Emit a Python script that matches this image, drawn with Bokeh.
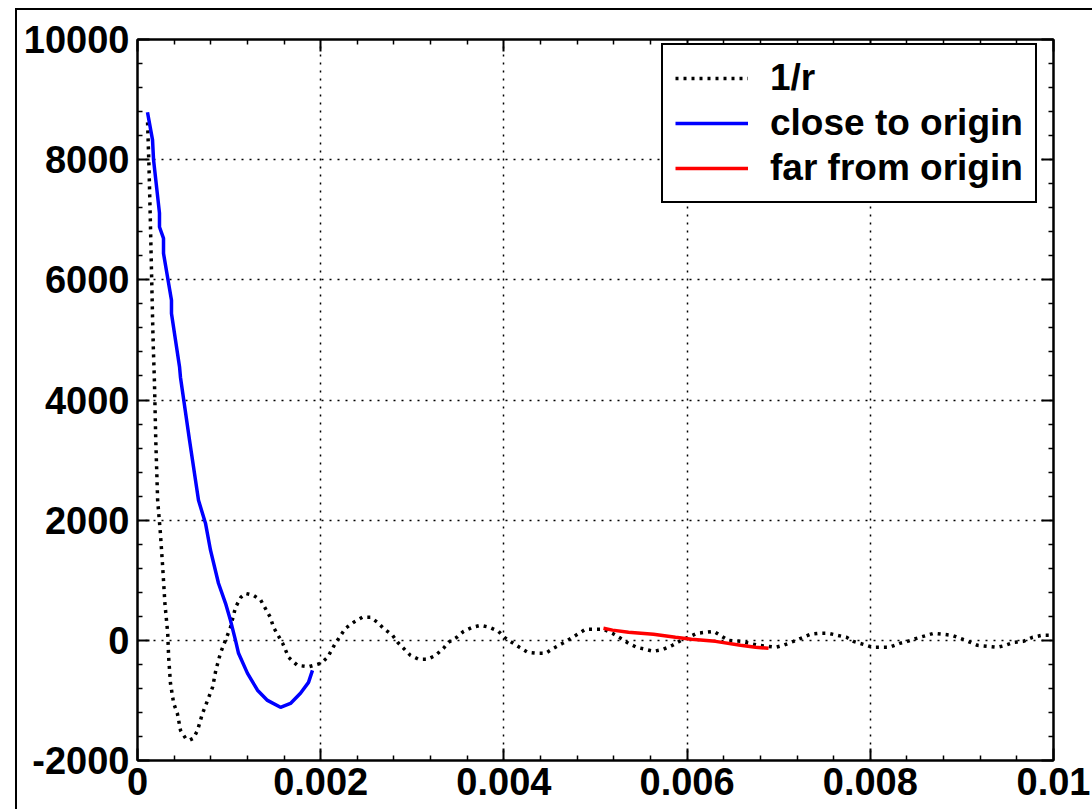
from bokeh.plotting import figure
from bokeh.models import (LinearAxis, FixedTicker, Legend, LegendItem,
                          Range1d, CustomJSTickFormatter, Grid, CustomLabelingPolicy)
from bokeh.embed import file_html
from bokeh.resources import INLINE

# ---- data -------------------------------------------------------------
inv_r_x = [0.000110, 0.000125, 0.000140, 0.000155, 0.000170, 0.000185, 0.000200, 0.000220, 0.000250, 0.000275,
           0.000300, 0.000330, 0.000340, 0.000360, 0.000395, 0.000435, 0.000470, 0.000525, 0.000570, 0.000610,
           0.000655, 0.000710, 0.000765, 0.000820, 0.000855, 0.000905, 0.000960, 0.001015, 0.001070, 0.001130,
           0.001180, 0.001265, 0.001345, 0.001450, 0.001485, 0.001585, 0.001650, 0.001745, 0.001870, 0.002000,
           0.002075, 0.002160, 0.002270, 0.002360, 0.002455, 0.002545, 0.002620, 0.002685, 0.002785, 0.002840,
           0.002980, 0.003070, 0.003165, 0.003255, 0.003340, 0.003395, 0.003485, 0.003560, 0.003655, 0.003745,
           0.003845, 0.003940, 0.004005, 0.004085, 0.004170, 0.004260, 0.004365, 0.004455, 0.004540, 0.004640,
           0.004715, 0.004890, 0.004980, 0.005085, 0.005185, 0.005275, 0.005360, 0.005450, 0.005545, 0.005635,
           0.005740, 0.005840, 0.005915, 0.006105, 0.006290, 0.006450, 0.006585, 0.006770, 0.006965, 0.007050,
           0.007160, 0.007240, 0.007345, 0.007435, 0.007545, 0.007640, 0.007740, 0.007815, 0.007925, 0.008025,
           0.008120, 0.008210, 0.008320, 0.008405, 0.008505, 0.008690, 0.008800, 0.008895, 0.009040, 0.009170,
           0.009280, 0.009390, 0.009475, 0.009565, 0.009670, 0.009770, 0.009870, 0.010000]
inv_r_y = [8620, 7900, 7000, 6000, 5000, 4300, 3300, 2330, 1780, 1220,
           600, 116, -280, -716, -1050, -1215, -1500, -1630, -1660, -1630,
           -1500, -1215, -1000, -780, -500, -216, 0, 216, 550, 720,
           780, 750, 670, 383, 216, -50, -283, -416, -440, -383,
           -283, -50, 200, 300, 383, 383, 300, 200, 83, -33,
           -250, -316, -316, -250, -133, -33, 50, 150, 216, 250,
           216, 150, 50, -33, -116, -200, -216, -216, -133, -50,
           17, 183, 183, 183, 116, 33, -50, -116, -150, -183,
           -150, -83, -17, 116, 150, 0, -17, -80, -116, -83,
           -17, 33, 100, 116, 116, 83, 50, -17, -67, -116,
           -116, -116, -50, -17, 33, 116, 100, 83, 0, -83,
           -100, -116, -83, -33, -17, 50, 83, 83]

close_x = [0.000109, 0.000164, 0.000175, 0.000240, 0.000240, 0.000284, 0.000284, 0.000371, 0.000371, 0.000459,
           0.000469, 0.000568, 0.000666, 0.000742, 0.000797, 0.000884, 0.000961, 0.001015, 0.001070, 0.001103,
           0.001201, 0.001310, 0.001419, 0.001561, 0.001670, 0.001779, 0.001867, 0.001910]
close_y = [8790, 8330, 8000, 7110, 6880, 6690, 6440, 5660, 5440, 4550,
           4380, 3330, 2330, 1950, 1500, 950, 616, 333, 0, -216,
           -550, -830, -1000, -1115, -1050, -880, -700, -500]

far_x = [0.005087, 0.005186, 0.005360, 0.005633, 0.005873, 0.006048, 0.006310, 0.006583, 0.006747, 0.006889]
far_y = [200, 170, 133, 100, 50, 17, -17, -83, -116, -133]

series_labels = ["1/r", "close to origin", "far from origin"]

x_ticks = [0, 0.002, 0.004, 0.006, 0.008, 0.01]
x_tick_labels = ["0", "0.002", "0.004", "0.006", "0.008", "0.01"]
y_ticks = [-2000, 0, 2000, 4000, 6000, 8000, 10000]
y_tick_labels = ["-2000", "0", "2000", "4000", "6000", "8000", "10000"]

# ---- figure -----------------------------------------------------------
FONT = "Liberation Sans"

p = figure(width=1092, height=809, output_backend="svg", toolbar_location=None,
           x_range=Range1d(0, 0.01), y_range=Range1d(-2000, 10000),
           min_border_left=137, min_border_top=39, min_border_right=39, min_border_bottom=49)
p.xaxis.visible = False
p.yaxis.visible = False
p.grid.visible = False

# outer figure frame (thin black lines at left and top, like the original window border)
p.border_fill_alpha = 0
p.styles = {
    "background-color": "white",
    "background-image": "linear-gradient(#000, #000), linear-gradient(#000, #000)",
    "background-size": "2px 100%, 100% 2px",
    "background-position": "15px 8px, 15px 8px",
    "background-repeat": "no-repeat",
}

def minors(ticks, n=5):
    out = []
    for a, b in zip(ticks[:-1], ticks[1:]):
        out += [a + (b - a) * k / n for k in range(1, n)]
    return out

fmt_code = """
let best = 0; let d = Infinity;
for (let i = 0; i < tvals.length; i++) {
  const e = Math.abs(tick - tvals[i]);
  if (e < d) { d = e; best = i; }
}
return tlabels[best];
"""

xt = FixedTicker(ticks=x_ticks, minor_ticks=minors(x_ticks))
yt = FixedTicker(ticks=y_ticks, minor_ticks=minors(y_ticks))

def style_axis(ax, show_labels):
    ax.axis_line_color = "black"
    ax.axis_line_width = 2
    ax.major_tick_in = 12
    ax.major_tick_out = 0
    ax.minor_tick_in = 5
    ax.minor_tick_out = 0
    ax.major_tick_line_width = 2
    ax.minor_tick_line_width = 1.5
    ax.major_tick_line_color = "black"
    ax.minor_tick_line_color = "black"
    if show_labels:
        ax.major_label_text_font = FONT
        ax.major_label_text_font_style = "bold"
        ax.major_label_text_font_size = "38px"
        ax.major_label_text_color = "black"
    else:
        ax.major_label_text_font_size = "1px"
        ax.major_label_standoff = 0
        ax.major_label_policy = CustomLabelingPolicy(
            code="for (const i of indices) { indices.unset(i) } return indices")

bottom = LinearAxis(ticker=xt, formatter=CustomJSTickFormatter(
    args=dict(tvals=x_ticks, tlabels=x_tick_labels), code=fmt_code))
style_axis(bottom, True)
bottom.major_label_standoff = 7
p.add_layout(bottom, "below")

left = LinearAxis(ticker=yt, formatter=CustomJSTickFormatter(
    args=dict(tvals=y_ticks, tlabels=y_tick_labels), code=fmt_code))
style_axis(left, True)
left.major_label_standoff = 8
p.add_layout(left, "left")

top = LinearAxis(ticker=xt)
style_axis(top, False)
p.add_layout(top, "above")

right = LinearAxis(ticker=yt)
style_axis(right, False)
p.add_layout(right, "right")

gx = Grid(dimension=0, ticker=xt, grid_line_color="black", grid_line_dash="2 6", grid_line_width=1.5)
gy = Grid(dimension=1, ticker=yt, grid_line_color="black", grid_line_dash="2 6", grid_line_width=1.5)
p.add_layout(gx)
p.add_layout(gy)

p.outline_line_color = "black"
p.outline_line_width = 2
p.outline_line_alpha = 1
p.background_fill_color = "white"

r1 = p.line(inv_r_x, inv_r_y, line_color="black", line_width=3.5, line_dash="3 5")
r2 = p.line(close_x, close_y, line_color="#0000ff", line_width=3.5)
r3 = p.line(far_x, far_y, line_color="#ff0000", line_width=3.5)

legend = Legend(items=[LegendItem(label=series_labels[0], renderers=[r1]),
                       LegendItem(label=series_labels[1], renderers=[r2]),
                       LegendItem(label=series_labels[2], renderers=[r3])],
                location=(524, 557))
legend.label_text_font = FONT
legend.label_text_font_style = "bold"
legend.label_text_font_size = "37px"
legend.label_text_color = "black"
legend.border_line_color = "black"
legend.border_line_width = 2
legend.border_line_alpha = 1
legend.background_fill_color = "white"
legend.background_fill_alpha = 1
legend.glyph_width = 73
legend.glyph_height = 42
legend.label_height = 42
legend.label_standoff = 22
legend.padding = 12
legend.spacing = 3
legend.margin = 0
p.add_layout(legend)

open("out.html", "w").write(file_html(p, INLINE))
